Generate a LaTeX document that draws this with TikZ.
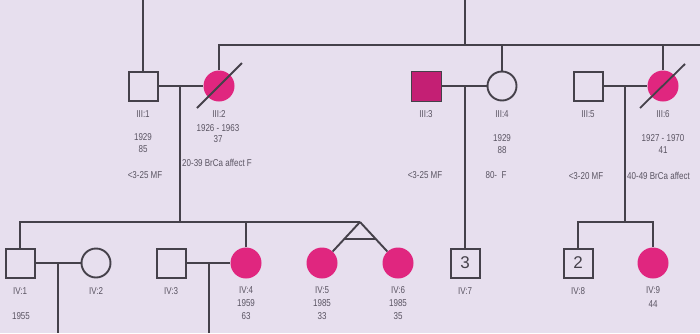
\documentclass[tikz,border=0pt]{standalone}
\usepackage{fontspec}
\newfontfamily\lab[FakeStretch=0.8]{Liberation Sans}
\newfontfamily\numf{Liberation Sans}
\usetikzlibrary{calc}
\definecolor{bg}{HTML}{E7DFEE}
\definecolor{aff}{HTML}{E0267F}
\definecolor{affd}{HTML}{C41F74}
\definecolor{ln}{HTML}{45414A}
\definecolor{tx}{HTML}{5A5462}
\tikzset{
  male/.style={rectangle, draw=ln, line width=2pt, fill=bg, minimum size=29pt, inner sep=0pt},
  female/.style={circle, draw=ln, line width=1.9pt, fill=bg, minimum size=29pt, inner sep=0pt},
  affF/.style={circle, fill=aff, draw=none, minimum size=31pt, inner sep=0pt},
  affM/.style={rectangle, fill=affd, draw=ln, line width=1pt, minimum size=30pt, inner sep=0pt},
  nmale/.style={male, font=\numf\fontsize{17}{17}\selectfont, text=ln},
  lbl/.style={font=\lab\fontsize{10}{10}\selectfont, text=tx, inner sep=0pt},
  conn/.style={draw=ln, line width=1.9pt},
  slash/.style={draw=ln, line width=1.8pt}
}
\begin{document}
\begin{tikzpicture}[x=1pt,y=-1pt]
\fill[bg] (0,0) rectangle (700,333);
\useasboundingbox (0,0) rectangle (700,333);

% generation III
\node[male] (III1) at (143,86) {};
\node[affF] (III2) at (219,86) {};
\node[affM] (III3) at (426,86) {};
\node[female] (III4) at (502,86) {};
\node[male] (III5) at (588,86) {};
\node[affF] (III6) at (663,86) {};

% generation IV
\node[male] (IV1) at (20,263) {};
\node[female] (IV2) at (96,263) {};
\node[male] (IV3) at (171,263) {};
\node[affF] (IV4) at (246,263) {};
\node[affF] (IV5) at (322,263) {};
\node[affF] (IV6) at (398,263) {};
\node[nmale] (IV7) at (465,263) {3};
\node[nmale] (IV8) at (578,263) {2};
\node[affF] (IV9) at (653,263) {};

% coordinates
\coordinate (top1) at (143,0);
\coordinate (top2) at (465,0);
\coordinate (h2) at (465,45);
\coordinate (hr) at (700,45);
\coordinate (m1) at (180,86);
\coordinate (s1) at (180,222);
\coordinate (tw) at (360,222);
\coordinate (m2) at (465,86);
\coordinate (m3) at (625,86);
\coordinate (s3) at (625,222);
\coordinate (m4) at (58,263);
\coordinate (d4) at (58,333);
\coordinate (m5) at (209,263);
\coordinate (d5) at (209,333);

% generation II connections
\draw[conn] (top1) -- (III1.north);
\draw[conn] (top2) -- (h2);
\draw[conn] (III2.north) |- (hr);
\draw[conn] (III4.north) -- (III4.north |- hr);
\draw[conn] (III6.north) -- (III6.north |- hr);

% marriages III
\draw[conn] (III1) -- (III2);
\draw[conn] (III3) -- (III4);
\draw[conn] (III5) -- (III6);
\draw[conn] (m1) -- (s1);
\draw[conn] (m2) -- (IV7.north);
\draw[conn] (m3) -- (s3);

% slashes (deceased)
\draw[slash] (III2) ++(-22,22) -- ++(45,-45);
\draw[slash] (III6) ++(-23,22) -- ++(45,-44);

% sibship IV (III1 x III2)
\draw[conn] (IV1.north) |- (tw);
\draw[conn] (IV4.north) -- (IV4.north |- tw);
\draw[conn] (tw) -- (IV5);
\draw[conn] (tw) -- (IV6);
\draw[conn] ($(tw)!0.415!(IV5)$) -- ($(tw)!0.415!(IV6)$);

% sibship IV (III5 x III6)
\draw[conn] (IV8.north) |- (s3) -| (IV9.north);

% marriages IV
\draw[conn] (IV1) -- (IV2);
\draw[conn] (IV3) -- (IV4);
\draw[conn] (m4) -- (d4);
\draw[conn] (m5) -- (d5);

% labels III
\node[lbl] (tIII1) at (143,114) {III:1};
\node[lbl] (tIII1b) at (143,137) {1929};
\node[lbl] (tIII1c) at (143,149) {85};
\node[lbl] (tIII1d) at (145,175) {<3-25 MF};
\node[lbl] (tIII2) at (219,114) {III:2};
\node[lbl] (tIII2b) at (218,128) {1926 - 1963};
\node[lbl] (tIII2c) at (218,139) {37};
\node[lbl, anchor=west] (tIII2d) at (182,163) {20-39 BrCa affect F};
\node[lbl] (tIII3) at (426,114) {III:3};
\node[lbl] (tIII3d) at (425,175) {<3-25 MF};
\node[lbl] (tIII4) at (502,114) {III:4};
\node[lbl] (tIII4b) at (502,138) {1929};
\node[lbl] (tIII4c) at (502,150) {88};
\node[lbl] (tIII4d) at (496,175) {80- \ F};
\node[lbl] (tIII5) at (588,114) {III:5};
\node[lbl] (tIII5d) at (586,176) {<3-20 MF};
\node[lbl] (tIII6) at (663,114) {III:6};
\node[lbl] (tIII6b) at (663,138) {1927 - 1970};
\node[lbl] (tIII6c) at (663,150) {41};
\node[lbl, anchor=west] (tIII6d) at (627,176) {40-49 BrCa affect};

% labels IV
\node[lbl] (tIV1) at (20,291) {IV:1};
\node[lbl] (tIV1b) at (21,316) {1955};
\node[lbl] (tIV2) at (96,291) {IV:2};
\node[lbl] (tIV3) at (171,291) {IV:3};
\node[lbl] (tIV4) at (246,290) {IV:4};
\node[lbl] (tIV4b) at (246,303) {1959};
\node[lbl] (tIV4c) at (246,316) {63};
\node[lbl] (tIV5) at (322,290) {IV:5};
\node[lbl] (tIV5b) at (322,303) {1985};
\node[lbl] (tIV5c) at (322,316) {33};
\node[lbl] (tIV6) at (398,290) {IV:6};
\node[lbl] (tIV6b) at (398,303) {1985};
\node[lbl] (tIV6c) at (398,316) {35};
\node[lbl] (tIV7) at (465,291) {IV:7};
\node[lbl] (tIV8) at (578,291) {IV:8};
\node[lbl] (tIV9) at (653,290) {IV:9};
\node[lbl] (tIV9b) at (653,304) {44};
\end{tikzpicture}
\end{document}
